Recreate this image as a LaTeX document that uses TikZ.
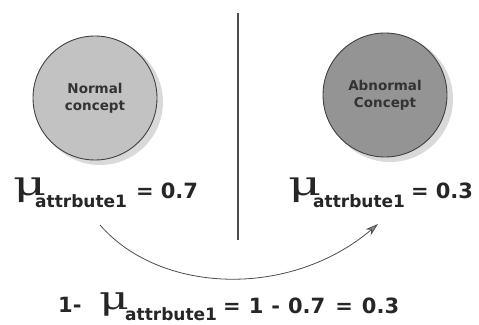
\documentclass[tikz,border=0pt]{standalone}
\usepackage{fontspec}
\setmainfont{DejaVu Sans}
\newfontfamily\mufont{DejaVu Serif}
\usetikzlibrary{arrows.meta}
\begin{document}
\begin{tikzpicture}[x=1pt,y=1pt,
  concept/.style={circle,draw=black!75,line width=0.9pt,minimum size=124pt,inner sep=0pt,
    font=\fontsize{13.5}{17}\selectfont\bfseries,text=black!80,align=center},
  shadowc/.style={circle,fill=black!15,minimum size=126pt,inner sep=0pt},
  mulab/.style={anchor=base west,inner sep=0pt,font=\fontsize{34}{34}\selectfont\mufont,text=black!85},
  sublab/.style={anchor=base west,inner sep=0pt,font=\fontsize{17}{17}\selectfont\bfseries,text=black!85},
  vallab/.style={anchor=base west,inner sep=0pt,font=\fontsize{21}{21}\selectfont\bfseries,text=black!85},
  conn/.style={draw=black!70,line width=0.8pt,-{Stealth[length=13pt,width=8pt,fill=black!45]}}]
\useasboundingbox (0,0) rectangle (479,324);
% divider
\coordinate (divtop) at (238,311);
\coordinate (divbot) at (238,84);
\draw[black!70,line width=1.6pt] (divtop) -- (divbot);
% circles
\node[shadowc] (lsh) at (100,222) {};
\node[concept,fill=black!24] (normal) at (95,226) {Normal\\concept};
\node[shadowc] (rsh) at (390,225) {};
\node[concept,fill=black!42] (abnormal) at (385,229) {Abnormal\\Concept};
% left label
\node[mulab] (lmu) at (13,128) {\scalebox{1.5}[1]{μ}};
\node[sublab] (lsub) at (35,116) {attrbute1};
\node[vallab] (lval) at (136,125) {=\hspace{7pt}0.7};
% right label
\node[mulab] (rmu) at (288,128) {\scalebox{1.5}[1]{μ}};
\node[sublab] (rsub) at (313,116) {attrbute1};
\node[vallab] (rval) at (411,125) {=\hspace{7pt}0.3};
% arrow
\coordinate (astart) at (100,99);
\coordinate (aend) at (378,100);
\draw[conn] (astart) .. controls (160,30) and (290,25) .. (aend);
% bottom label
\node[vallab] (b1) at (58,12) {1-};
\node[mulab] (bmu) at (99,14) {\scalebox{1.35}[0.95]{μ}};
\node[sublab] (bsub) at (125,4) {attrbute1};
\node[vallab] (bval) at (223,11) {=\hspace{8pt}1\hspace{8pt}-\hspace{8pt}0.7\hspace{10pt}=\hspace{9pt}0.3};
\end{tikzpicture}
\end{document}
